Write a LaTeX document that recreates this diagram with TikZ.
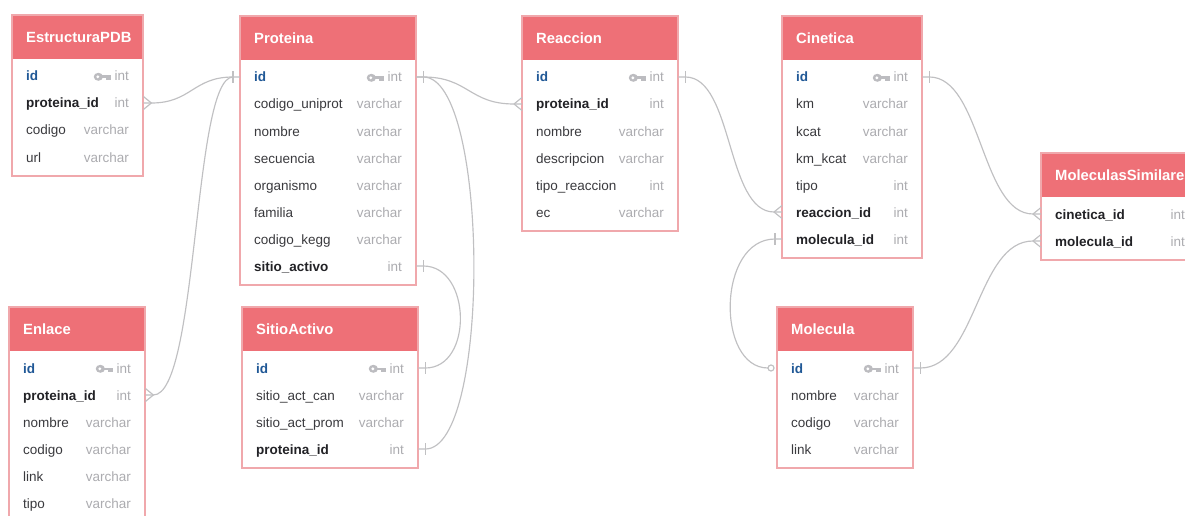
\documentclass[tikz,border=0pt]{standalone}
\usepackage{fontspec}
\setmainfont{Liberation Sans}
\definecolor{hdr}{RGB}{238,112,119}
\definecolor{brd}{RGB}{240,168,172}
\definecolor{idblue}{RGB}{32,88,150}
\definecolor{fkdark}{RGB}{34,34,38}
\definecolor{fname}{RGB}{58,58,62}
\definecolor{ftype}{RGB}{172,172,176}
\definecolor{conn}{RGB}{192,192,194}
\definecolor{keyc}{RGB}{188,188,192}
\tikzset{
  hdrbox/.style={fill=hdr, draw=none, minimum height=44pt, inner sep=0pt},
  rowbox/.style={draw=none, minimum height=27pt, inner sep=0pt},
  titletext/.style={text=white, font=\bfseries\fontsize{14.8}{17}\selectfont, inner sep=0pt},
  keyf/.style={text=idblue, font=\bfseries\fontsize{13.5}{16}\selectfont, inner sep=0pt},
  fkf/.style={text=fkdark, font=\bfseries\fontsize{13.5}{16}\selectfont, inner sep=0pt},
  plainf/.style={text=fname, font=\fontsize{13.5}{16}\selectfont, inner sep=0pt},
  typetext/.style={text=ftype, font=\fontsize{13.5}{16}\selectfont, inner sep=0pt},
  connline/.style={draw=conn, line width=1.15pt},
  tableborder/.style={draw=brd, line width=1.2pt},
}
\newcommand\erdtable[7]{%
  % #1 name, #2 left, #3 top, #4 width, #5 title, #6 rows, #7 number of rows
  \pgfmathsetmacro\tbot{#3+61+27*(#7-1)+19}
  \fill[white] (#2,#3) rectangle ({#2+#4},\tbot);
  \node[hdrbox, minimum width=#4, anchor=north west] (#1) at (#2,#3) {};
  \node[titletext, anchor=west] (#1-title) at ({#2+14},{#3+22}) {#5};
  \foreach \f/\t/\s [count=\i] in {#6} {
    \node[rowbox, minimum width=#4, anchor=west] (#1-\i) at (#2,{#3+61+27*(\i-1)}) {};
    \node[\s, anchor=base west] (#1-\i-n) at ({#2+14},{#3+61+27*(\i-1)+5}) {\f};
    \node[typetext, anchor=base east] (#1-\i-t) at ({#2+#4-14},{#3+61+27*(\i-1)+5}) {\t};
  }
  \draw[tableborder] (#2,#3) rectangle ({#2+#4},\tbot);
}
\newcommand\keyicon[1]{%
  \fill[keyc] ([xshift=-16pt,yshift=4.2pt]#1.base west) ellipse (4.6pt and 4pt);
  \fill[white] ([xshift=-16.5pt,yshift=4.2pt]#1.base west) circle (1.6pt);
  \fill[keyc] ([xshift=-13pt,yshift=2.9pt]#1.base west) rectangle ([xshift=-3.5pt,yshift=5.5pt]#1.base west);
  \fill[keyc] ([xshift=-8pt,yshift=0.6pt]#1.base west) rectangle ([xshift=-3.5pt,yshift=3pt]#1.base west);
}
\newcommand\crowR[1]{%
  \draw[connline] ([xshift=8pt]#1.east) -- ([yshift=6.5pt]#1.east);
  \draw[connline] ([xshift=8pt]#1.east) -- ([yshift=-6.5pt]#1.east);
}
\newcommand\crowL[1]{%
  \draw[connline] ([xshift=-8pt]#1.west) -- ([yshift=6.5pt]#1.west);
  \draw[connline] ([xshift=-8pt]#1.west) -- ([yshift=-6.5pt]#1.west);
}
\newcommand\barR[1]{%
  \draw[connline] ([xshift=7pt,yshift=6pt]#1.east) -- ([xshift=7pt,yshift=-6pt]#1.east);
}
\newcommand\barL[1]{%
  \draw[connline] ([xshift=-7pt,yshift=6pt]#1.west) -- ([xshift=-7pt,yshift=-6pt]#1.west);
}
\begin{document}
\begin{tikzpicture}[x=1pt,y=-1pt]
\useasboundingbox (0,0) rectangle (1185,516);
\clip (0,0) rectangle (1185,516);
\fill[white] (0,0) rectangle (1185,516);

% tables
\erdtable{Est}{12}{15}{131}{EstructuraPDB}{id/int/keyf, proteina\_id/int/fkf, codigo/varchar/plainf, url/varchar/plainf}{4}
\erdtable{Prot}{240}{16}{176}{Proteina}{id/int/keyf, codigo\_uniprot/varchar/plainf, nombre/varchar/plainf, secuencia/varchar/plainf, organismo/varchar/plainf, familia/varchar/plainf, codigo\_kegg/varchar/plainf, sitio\_activo/int/fkf}{8}
\erdtable{Reac}{522}{16}{156}{Reaccion}{id/int/keyf, proteina\_id/int/fkf, nombre/varchar/plainf, descripcion/varchar/plainf, tipo\_reaccion/int/plainf, ec/varchar/plainf}{6}
\erdtable{Cin}{782}{16}{140}{Cinetica}{id/int/keyf, km/varchar/plainf, kcat/varchar/plainf, km\_kcat/varchar/plainf, tipo/int/plainf, reaccion\_id/int/fkf, molecula\_id/int/fkf}{7}
\erdtable{MS}{1041}{153}{158}{MoleculasSimilares}{cinetica\_id/int/fkf, molecula\_id/int/fkf}{2}
\erdtable{Enl}{9}{307}{136}{Enlace}{id/int/keyf, proteina\_id/int/fkf, nombre/varchar/plainf, codigo/varchar/plainf, link/varchar/plainf, tipo/varchar/plainf}{6}
\erdtable{Sit}{242}{307}{176}{SitioActivo}{id/int/keyf, sitio\_act\_can/varchar/plainf, sitio\_act\_prom/varchar/plainf, proteina\_id/int/fkf}{4}
\erdtable{Mol}{777}{307}{136}{Molecula}{id/int/keyf, nombre/varchar/plainf, codigo/varchar/plainf, link/varchar/plainf}{4}

% connectors
\draw[connline] (Est-2.east) -- ++(8,0) .. controls +(40,0) and +(-40,0) .. ([xshift=-7pt]Prot-1.west) -- (Prot-1.west);
\draw[connline] (Enl-2.east) -- ++(8,0) .. controls +(45,0) and +(-40,0) .. ([xshift=-7pt]Prot-1.west);
\draw[connline] (Prot-1.east) -- ++(7,0) .. controls +(45,0) and +(-45,0) .. ([xshift=-8pt]Reac-2.west) -- (Reac-2.west);
\draw[connline] (Prot-1.east) -- ++(7,0) .. controls +(66,0) and +(66,0) .. ([xshift=7pt]Sit-4.east) -- (Sit-4.east);
\draw[connline] (Prot-8.east) -- ++(7,0) .. controls +(48,0) and +(48,0) .. ([xshift=7pt]Sit-1.east) -- (Sit-1.east);
\draw[connline] (Reac-1.east) -- ++(7,0) .. controls +(48,0) and +(-48,0) .. ([xshift=-8pt]Cin-6.west) -- (Cin-6.west);
\draw[connline] (Cin-7.west) -- ++(-7,0) .. controls +(-58,0) and +(-52,0) .. ([xshift=-9pt]Mol-1.west);
\draw[connline] (Cin-1.east) -- ++(7,0) .. controls +(52,0) and +(-52,0) .. ([xshift=-8pt]MS-1.west) -- (MS-1.west);
\draw[connline] (Mol-1.east) -- ++(7,0) .. controls +(56,0) and +(-56,0) .. ([xshift=-8pt]MS-2.west) -- (MS-2.west);

% key icons
\keyicon{Est-1-t}
\keyicon{Prot-1-t}
\keyicon{Reac-1-t}
\keyicon{Cin-1-t}
\keyicon{Enl-1-t}
\keyicon{Sit-1-t}
\keyicon{Mol-1-t}

% relationship ends
\crowR{Est-2}
\crowR{Enl-2}
\barL{Prot-1}
\barR{Prot-1}
\crowL{Reac-2}
\barR{Prot-8}
\barR{Sit-1}
\barR{Sit-4}
\barR{Reac-1}
\crowL{Cin-6}
\barL{Cin-7}
\draw[connline, fill=white] ([xshift=-6pt]Mol-1.west) circle (3pt);
\barR{Cin-1}
\crowL{MS-1}
\barR{Mol-1}
\crowL{MS-2}
\end{tikzpicture}
\end{document}
